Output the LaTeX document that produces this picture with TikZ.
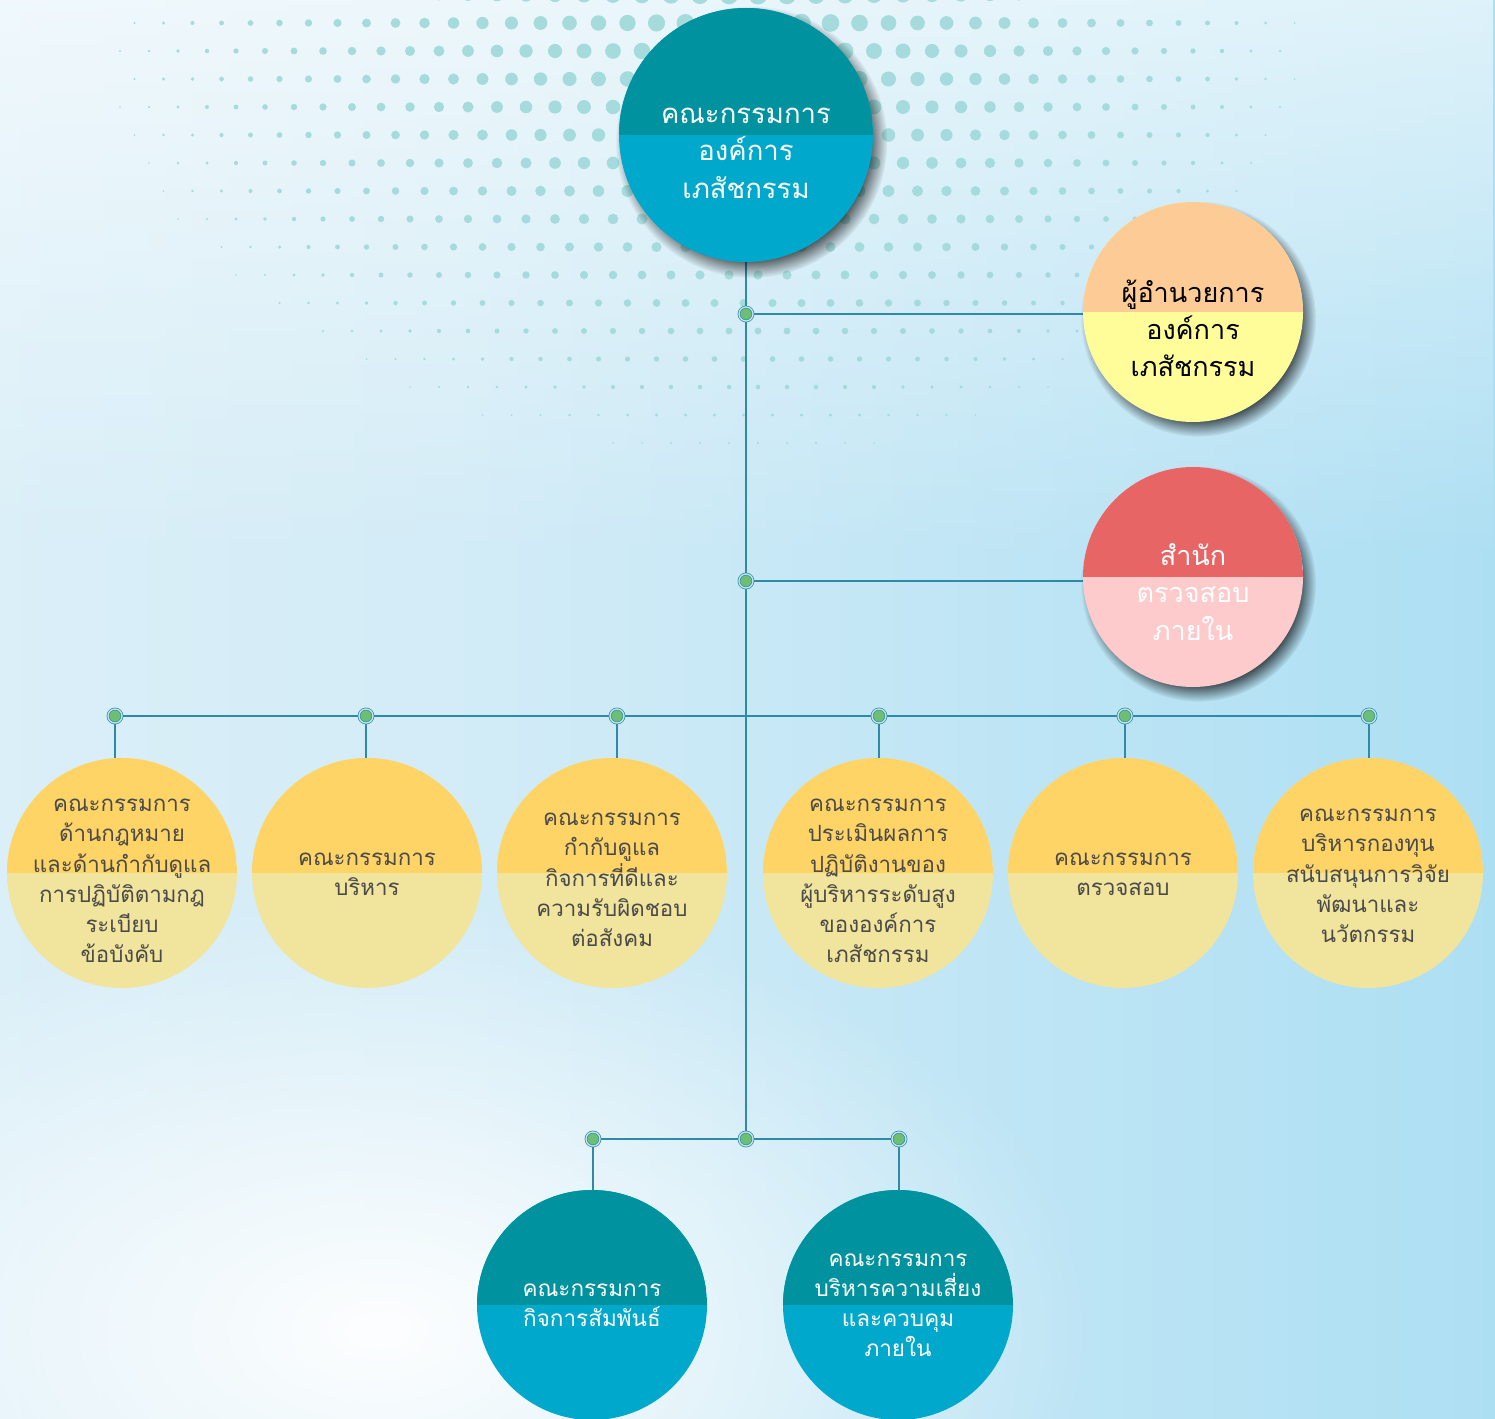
\documentclass[tikz,border=0pt]{standalone}
\usepackage{fontspec}
\setmainfont[Script=Thai]{Loma}
\usetikzlibrary{shadows,fadings}
\definecolor{tealtop}{HTML}{00929F}
\definecolor{tealbot}{HTML}{00A8CC}
\definecolor{dirtop}{HTML}{FDCB95}
\definecolor{dirbot}{HTML}{FEFD99}
\definecolor{audtop}{HTML}{E86566}
\definecolor{audbot}{HTML}{FECBCC}
\definecolor{yeltop}{HTML}{FED466}
\definecolor{yelbot}{HTML}{F1E49C}
\definecolor{linec}{HTML}{2F8AA7}
\definecolor{dotgreen}{HTML}{6DBF74}
\definecolor{ringgap}{HTML}{C5E6EE}
\definecolor{halfdot}{HTML}{9FD9D9}
\definecolor{rowtext}{HTML}{4A4A4A}
\definecolor{bgA}{HTML}{E6F3F9}
\definecolor{bgB}{HTML}{D3ECF7}
\definecolor{bgC}{HTML}{ADDFF3}
\definecolor{bgD}{HTML}{6EC7EA}
\pgfdeclarehorizontalshading{bgh}{100bp}{color(0bp)=(bgA); color(40bp)=(bgB); color(75bp)=(bgC); color(100bp)=(bgD)}
\tikzfading[name=fadetopdown, top color=transparent!0, bottom color=transparent!100]
\tikzfading[name=glow, inner color=transparent!0, outer color=transparent!100]
\pgfdeclarelayer{bg}
\pgfdeclarelayer{lines}
\pgfsetlayers{bg,lines,main}
\tikzset{
  splitc/.style 2 args={circle, inner sep=0pt, fill=#2,
    path picture={\fill[#1] (path picture bounding box.north west) rectangle (path picture bounding box.east);}},
  bigshadow/.style={general shadow={shadow scale=1.07, shadow xshift=5pt, shadow yshift=-6.5pt,
    opacity=0.9, fill=black, path fading={circle with fuzzy edge 20 percent}}},
  rowc/.style={splitc={yeltop}{yelbot}, minimum size=230pt},
  botc/.style={splitc={tealtop}{tealbot}, minimum size=230pt},
  sidec/.style={minimum size=220pt, bigshadow},
  txt/.style={align=center, inner sep=0pt},
  rowtxt/.style={txt, text=rowtext, font=\fontsize{22.3}{30.3}\selectfont},
  bottxt/.style={txt, text=white, font=\fontsize{22.5}{30}\selectfont},
  jdot/.style={circle, inner sep=0pt, minimum size=14pt, fill=dotgreen, draw=linec,
    line width=0.7pt, double=ringgap, double distance=1.3pt},
  conn/.style={draw=linec, line width=2.8pt}
}
\begin{document}
\begin{tikzpicture}[x=1pt,y=-1pt]
\useasboundingbox (0,0) rectangle (1495,1418);
\begin{pgfonlayer}{bg}
  \shade[shading=bgh] (0,0) rectangle (1495,1418);
  \fill[white, path fading=fadetopdown, opacity=0.6] (0,0) rectangle (1495,560);
  \fill[white, path fading=glow, opacity=0.95] (380,1330) ellipse (720 and 430);
  \foreach \row in {0,...,20} {
    \foreach \col in {0,...,44} {
      \pgfmathsetmacro\xx{120+\col*29+mod(\row,2)*14.5}
      \pgfmathsetmacro\yy{-5+\row*28}
      \pgfmathsetmacro\sx{ifthenelse(\xx>760,1.2,1.0)}
      \pgfmathsetmacro\dx{\sx*(\xx-760)/100}
      \pgfmathsetmacro\dy{1.5*(\yy-20)/100}
      \pgfmathsetmacro\dd{100*sqrt(\dx*\dx+\dy*\dy)}
      \pgfmathsetmacro\rr{10-0.014*\dd}
      \ifdim\rr pt>0.8pt
        \fill[halfdot, opacity=0.9] (\xx,\yy) circle[radius=\rr];
      \fi
    }
  }
\end{pgfonlayer}

% top board
\node[splitc={tealtop}{tealbot}, minimum size=254pt, bigshadow] (board) at (746,135) {};
\node[txt, text=white, font=\fontsize{27.5}{37.5}\selectfont] (tboard) at (746,153) {คณะกรรมการ\\องค์การ\\เภสัชกรรม};

% director
\node[splitc={dirtop}{dirbot}, sidec] (director) at (1193,312) {};
\node[txt, text=black, font=\fontsize{27}{37}\selectfont] (tdirector) at (1193,328) {ผู้อำนวยการ\\องค์การ\\เภสัชกรรม};

% internal audit office
\node[splitc={audtop}{audbot}, sidec] (audit) at (1193,577) {};
\node[txt, text=white, font=\fontsize{27}{37.5}\selectfont] (taudit) at (1193,592) {สำนัก\\ตรวจสอบ\\ภายใน};

% row of committees
\node[rowc] (c1) at (122,873) {};
\node[rowc] (c2) at (367,873) {};
\node[rowc] (c3) at (612,873) {};
\node[rowc] (c4) at (878,873) {};
\node[rowc] (c5) at (1123,873) {};
\node[rowc] (c6) at (1368,873) {};
\node[rowtxt] (t1) at (122,881) {คณะกรรมการ\\ด้านกฎหมาย\\และด้านกำกับดูแล\\การปฏิบัติตามกฎ\\ระเบียบ\\ข้อบังคับ};
\node[rowtxt] (t2) at (367,874) {คณะกรรมการ\\บริหาร};
\node[rowtxt] (t3) at (612,880) {คณะกรรมการ\\กำกับดูแล\\กิจการที่ดีและ\\ความรับผิดชอบ\\ต่อสังคม};
\node[rowtxt] (t4) at (878,881) {คณะกรรมการ\\ประเมินผลการ\\ปฏิบัติงานของ\\ผู้บริหารระดับสูง\\ขององค์การ\\เภสัชกรรม};
\node[rowtxt] (t5) at (1123,874) {คณะกรรมการ\\ตรวจสอบ};
\node[rowtxt] (t6) at (1368,876) {คณะกรรมการ\\บริหารกองทุน\\สนับสนุนการวิจัย\\พัฒนาและ\\นวัตกรรม};

% bottom committees
\node[botc] (bc1) at (592,1305) {};
\node[botc] (bc2) at (898,1305) {};
\node[bottxt] (tb1) at (592,1305) {คณะกรรมการ\\กิจการสัมพันธ์};
\node[bottxt] (tb2) at (898,1305) {คณะกรรมการ\\บริหารความเสี่ยง\\และควบคุม\\ภายใน};

% junction dots
\node[jdot] (j1) at (746,314) {};
\node[jdot] (j2) at (746,581) {};
\node[jdot] (r1) at (115,716) {};
\node[jdot] (r2) at (366,716) {};
\node[jdot] (r3) at (617,716) {};
\node[jdot] (r4) at (879,716) {};
\node[jdot] (r5) at (1125,716) {};
\node[jdot] (r6) at (1369,716) {};
\node[jdot] (jb) at (746,1139) {};
\node[jdot] (b1) at (593,1139) {};
\node[jdot] (b2) at (899,1139) {};

\begin{pgfonlayer}{lines}
  \draw[conn] (board.south) -- (jb.center);
  \draw[conn] (j1.center) -- (j1.center -| director.west);
  \draw[conn] (j2.center) -- (j2.center -| audit.west);
  \draw[conn] (r1.center) -- (r6.center);
  \foreach \i in {1,...,6} {
    \draw[conn] (r\i.center) -- (r\i.center |- c\i.north);
  }
  \draw[conn] (b1.center) -- (b2.center);
  \draw[conn] (b1.center) -- (b1.center |- bc1.north);
  \draw[conn] (b2.center) -- (b2.center |- bc2.north);
\end{pgfonlayer}
\end{tikzpicture}
\end{document}
